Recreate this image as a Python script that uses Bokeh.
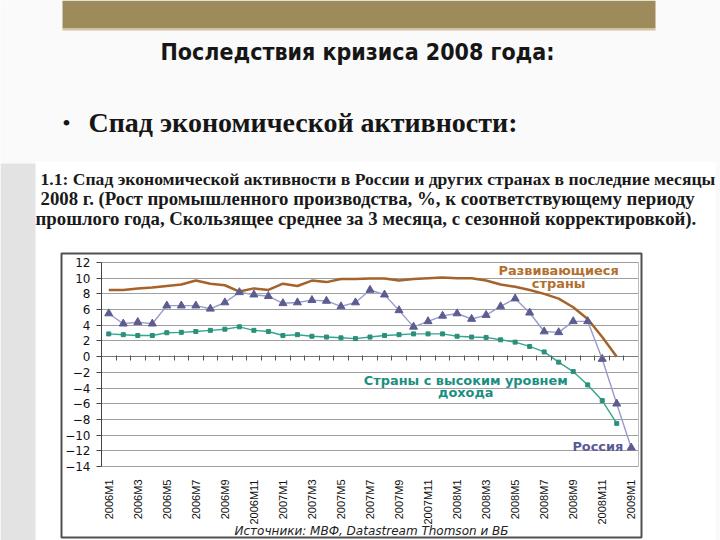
from math import pi
from bokeh.plotting import figure
from bokeh.models import Range1d, LinearAxis, FixedTicker, Grid, ColumnDataSource
from bokeh.core.properties import value
from bokeh.embed import file_html
from bokeh.resources import INLINE

# ---------------- data ----------------
tick_labels = ["2006M1", "2006M3", "2006M5", "2006M7", "2006M9", "2006M11",
               "2007M1", "2007M3", "2007M5", "2007M7", "2007M9", "2007M11",
               "2008M1", "2008M3", "2008M5", "2008M7", "2008M9", "2008M11",
               "2009M1"]
n_months = 37  # 2006M1 .. 2009M1

russia = [5.5, 4.2, 4.4, 4.2, 6.5, 6.5, 6.5, 6.1, 6.9, 8.2, 7.9, 7.7, 6.8,
          6.9, 7.2, 7.1, 6.4, 6.9, 8.5, 7.9, 5.9, 3.8, 4.5, 5.2, 5.5, 4.8,
          5.3, 6.4, 7.4, 5.6, 3.2, 3.1, 4.5, 4.5, -0.3, -6.0, -11.6]
developing = [8.5, 8.5, 8.7, 8.8, 9.0, 9.2, 9.7, 9.3, 9.1, 8.3, 8.7, 8.5,
              9.3, 9.0, 9.7, 9.5, 9.9, 9.9, 9.95, 9.95, 9.7, 9.9, 10.0, 10.1,
              10.0, 10.0, 9.7, 9.2, 8.9, 8.5, 8.0, 7.4, 6.3, 4.8, 2.5, 0.0]
high_income = [2.9, 2.8, 2.7, 2.7, 3.05, 3.1, 3.2, 3.35, 3.5, 3.8, 3.35, 3.2,
               2.7, 2.8, 2.6, 2.5, 2.4, 2.3, 2.5, 2.7, 2.8, 2.9, 2.9, 2.9,
               2.6, 2.5, 2.45, 2.15, 1.85, 1.3, 0.6, -0.7, -1.9, -3.6, -5.6, -8.5]
y_ticks = list(range(-14, 13, 2))

slide_title = "Последствия кризиса 2008 года:"
bullet_text = "Спад экономической активности:"
caption_lines = [
    "1.1: Спад экономической активности в России и других странах в последние месяцы",
    "2008 г. (Рост промышленного производства, %, к соответствующему периоду",
    "прошлого года, Скользящее среднее за 3 месяца, с сезонной корректировкой).",
]
source_text = "Источники: МВФ, Datastream Thomson и ВБ"

# ---------------- layout (picture pixels) ----------------
W, H = 720, 540
X0, X1, Y0, Y1 = 0, W, 0, H
PL, PR, PT, PB = 101, 638, 262, 466          # plot area
ymin, ymax = -14, 12
xlo, xhi = -0.5, n_months - 0.5
sx = (PR - PL) / (xhi - xlo)
sy = (PB - PT) / (ymax - ymin)

p = figure(width=W, height=H,
           x_range=Range1d(xlo - (PL - X0) / sx, xhi + (X1 - PR) / sx),
           y_range=Range1d(ymin - (Y1 - PB) / sy, ymax + (PT - Y0) / sy),
           x_axis_type=None, y_axis_type=None, toolbar_location=None,
           output_backend="svg", min_border=0,
           background_fill_color="#fafafa", border_fill_color="#fafafa",
           outline_line_color=None)
p.extra_x_ranges = {"px": Range1d(X0, X1)}
p.extra_y_ranges = {"px": Range1d(Y1, Y0)}
PX = dict(x_range_name="px", y_range_name="px")

# slide decoration
p.quad(left=[62], right=[655], top=[0], bottom=[28], fill_color="#9e8b5b",
       line_color=None, level="image", **PX)
p.quad(left=[62], right=[655], top=[28], bottom=[30], fill_color="#cfc4a2",
       line_color=None, level="image", **PX)
p.quad(left=[35], right=[715], top=[161], bottom=[540], fill_color="#ffffff",
       line_color=None, level="image", **PX)
p.quad(left=[0], right=[35], top=[163], bottom=[540], fill_color="#e3e3e3",
       line_color=None, level="image", **PX)
p.quad(left=[61], right=[641], top=[253], bottom=[537], fill_color="#ffffff",
       line_color="#505050", line_width=2, level="image", **PX)

p.text(x=[357], y=[51], text=[slide_title],
       text_font=value("DejaVu Sans Condensed"), text_font_style="bold",
       text_font_size="23px", text_align="center", text_baseline="middle",
       text_color="#161616", **PX)
p.text(x=[66], y=[122], text=["•"], text_font=value("Liberation Serif"),
       text_font_size="24px", text_align="center", text_baseline="middle",
       text_color="#161616", **PX)
p.text(x=[88], y=[122], text=[bullet_text], text_font=value("Liberation Serif"),
       text_font_style="bold", text_font_size="28px", text_align="left",
       text_baseline="middle", text_color="#161616", **PX)
p.text(x=[40], y=[178], text=caption_lines[:1],
       text_font=value("Liberation Serif"), text_font_style="bold",
       text_font_size="17.6px", text_align="left", text_baseline="middle",
       text_color="#1a1a1a", **PX)
p.text(x=[40, 35], y=[198, 218], text=caption_lines[1:],
       text_font=value("Liberation Serif"), text_font_style="bold",
       text_font_size="18.8px", text_align="left", text_baseline="middle",
       text_color="#1a1a1a", **PX)
p.text(x=[371], y=[530], text=[source_text], text_font=value("DejaVu Sans"),
       text_font_style="italic", text_font_size="12px", text_align="center",
       text_baseline="middle", text_color="#222222", **PX)

# grid
grid = Grid(dimension=1, ticker=FixedTicker(ticks=y_ticks),
            cross_bounds=(xlo, xhi), grid_line_color="#a0a0a0",
            grid_line_width=1)
p.add_layout(grid)

# series
src_r = ColumnDataSource(dict(x=list(range(len(russia))), y=russia))
src_d = ColumnDataSource(dict(x=list(range(len(developing))), y=developing))
src_h = ColumnDataSource(dict(x=list(range(len(high_income))), y=high_income))

p.line("x", "y", source=src_d, line_color="#a5622a", line_width=2.5)
p.line("x", "y", source=src_h, line_color="#33a78b", line_width=1.4)
p.scatter("x", "y", source=src_h, marker="square", size=4,
          fill_color="#2b8f7c", line_color="#2b8f7c")
p.line("x", "y", source=src_r, line_color="#9a9acb", line_width=1.4)
p.scatter("x", "y", source=src_r, marker="triangle", size=8,
          fill_color="#5c5c90", line_color="#5c5c90")

# series labels
lab_font = value("DejaVu Sans")
p.text(x=[31.0, 31.0], y=[11.0, 9.35], text=["Развивающиеся", "страны"],
       text_font=lab_font, text_font_style="bold", text_font_size="12.9px",
       text_align="center", text_baseline="middle", text_color="#b0702f")
p.text(x=[24.6, 24.6], y=[-3.0, -4.55], text=["Страны с высоким уровнем", "дохода"],
       text_font=lab_font, text_font_style="bold", text_font_size="12.9px",
       text_align="center", text_baseline="middle", text_color="#1b8f7f")
p.text(x=[33.7], y=[-11.45], text=["Россия"],
       text_font=lab_font, text_font_style="bold", text_font_size="12.9px",
       text_align="center", text_baseline="middle", text_color="#5a5a96")

# axes
yaxis = LinearAxis(fixed_location=xlo, bounds=(ymin, ymax),
                   ticker=FixedTicker(ticks=y_ticks),
                   major_tick_out=5, major_tick_in=0, major_label_standoff=6,
                   axis_line_color="#444444", major_tick_line_color="#444444",
                   major_label_text_font="DejaVu Sans",
                   major_label_text_font_size="12px",
                   major_label_text_color="#111111")
p.add_layout(yaxis, "left")

xl_ticks = list(range(0, n_months, 2))
xaxis = LinearAxis(fixed_location=ymin, ticker=FixedTicker(ticks=xl_ticks),
                   major_label_overrides={t: s for t, s in zip(xl_ticks, tick_labels)},
                   axis_line_color=None, major_tick_line_color=None,
                   major_label_orientation=pi / 2, major_label_standoff=7,
                   major_label_text_font="Liberation Sans",
                   major_label_text_font_size="11px",
                   major_label_text_color="#111111")
p.add_layout(xaxis, "below")

zaxis = LinearAxis(fixed_location=0, bounds=(xlo, xhi),
                   ticker=FixedTicker(ticks=[k - 0.5 for k in range(n_months + 1)]),
                   major_tick_out=4, major_tick_in=1,
                   axis_line_color="#777777", major_tick_line_color="#555555",
                   major_label_text_alpha=0, major_label_text_font_size="1px")
p.add_layout(zaxis, "below")

raxis = LinearAxis(fixed_location=xhi, bounds=(ymin, ymax),
                   ticker=FixedTicker(ticks=[]), axis_line_color="#bbbbbb",
                   major_label_text_alpha=0)
p.add_layout(raxis, "right")

open("out.html", "w").write(file_html(p, INLINE))
